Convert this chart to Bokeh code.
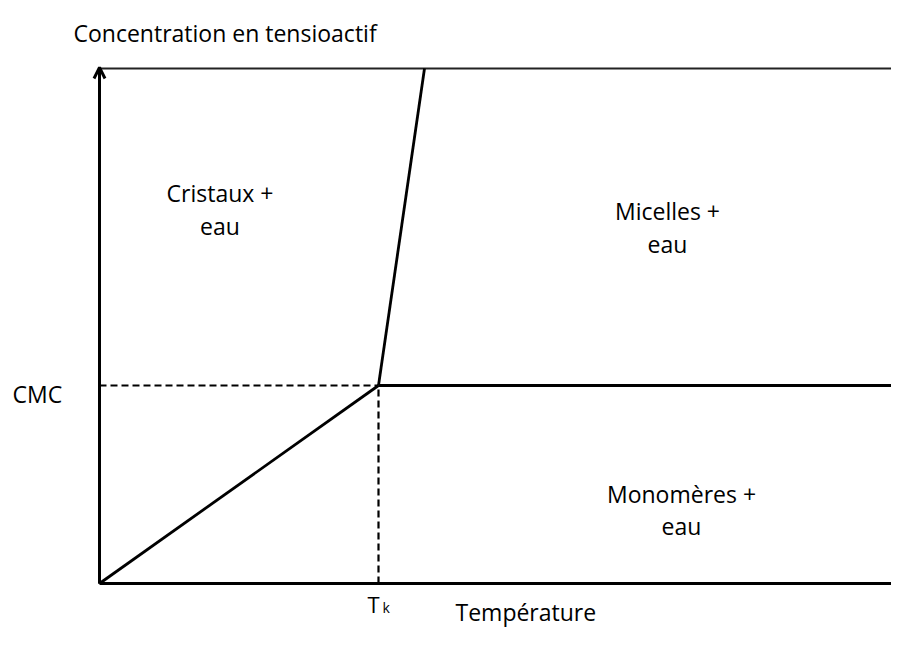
from bokeh.plotting import figure
from bokeh.models import ColumnDataSource, Range1d, Arrow, OpenHead
from bokeh.core.properties import value
from bokeh.embed import file_html
from bokeh.resources import INLINE

# --- schematic data (arbitrary units) ---
T_K = 2.79          # Krafft temperature
CMC = 1.98          # critical micelle concentration
T_MAX = 8.10        # end of temperature axis
C_MAX = 5.15        # top of concentration axis
SOLUB_T = [0.0, T_K]          # solubility curve (monomers)
SOLUB_C = [0.0, CMC]
KRAFFT_T = [T_K, 3.25]        # crystal / micelle boundary
KRAFFT_C = [CMC, C_MAX]
CMC_T = [T_K, T_MAX]          # CMC line above Krafft point
CMC_C = [CMC, CMC]
REGION_NAMES = ["Cristaux +", "eau", "Micelles +", "eau", "Monomères +", "eau"]

FONT = value("Open Sans")
FS = "23px"

p = figure(width=891, height=630, output_backend="svg", toolbar_location=None,
           x_range=Range1d(-0.99, 7.92), y_range=Range1d(-0.47, 5.83),
           min_border=0, outline_line_color=None)
p.axis.visible = False
p.grid.visible = False
p.background_fill_color = "white"
p.border_fill_color = "white"

# axes
p.line([0, T_MAX], [0, 0], line_color="black", line_width=3)
p.line([0, 0], [0, C_MAX - 0.02], line_color="black", line_width=3)
p.add_layout(Arrow(end=OpenHead(size=11, line_width=3, line_color="black"),
                   x_start=0, y_start=0, x_end=0, y_end=C_MAX + 0.01,
                   line_color="black", line_width=3))
# top limit
p.line([0, T_MAX], [C_MAX, C_MAX], line_color="#222222", line_width=2)

# boundaries
p.line(SOLUB_T, SOLUB_C, line_color="black", line_width=2.8)
p.line(KRAFFT_T, KRAFFT_C, line_color="black", line_width=2.8)
p.line(CMC_T, CMC_C, line_color="black", line_width=2.8)
p.line([0, T_K], [CMC, CMC], line_color="black", line_width=2.2, line_dash="7 4")
p.line([T_K, T_K], [0, CMC], line_color="black", line_width=2.2, line_dash="7 4")

# region labels
reg = ColumnDataSource(dict(
    x=[1.205, 1.205, 5.68, 5.68, 5.82, 5.82],
    y=[3.91, 3.58, 3.73, 3.40, 0.90, 0.58],
    text=REGION_NAMES))
p.text("x", "y", text="text", source=reg, text_font=FONT, text_font_size=FS,
       text_align="center", text_baseline="alphabetic", text_color="black")

# axis labels
lab = ColumnDataSource(dict(
    x=[-0.26, -0.87, 3.56],
    y=[5.51, 1.90, -0.28],
    text=["Concentration en tensioactif", "CMC", "Température"]))
p.text("x", "y", text="text", source=lab, text_font=FONT, text_font_size=FS,
       text_align="left", text_baseline="alphabetic", text_color="black")

p.text([2.68], [-0.20], text=["T"], text_font=FONT, text_font_size="22px",
       text_align="left", text_baseline="alphabetic", text_color="black")
p.text([2.83], [-0.235], text=["k"], text_font=FONT, text_font_size="14px",
       text_align="left", text_baseline="alphabetic", text_color="black")

open("out.html", "w").write(file_html(p, INLINE))
